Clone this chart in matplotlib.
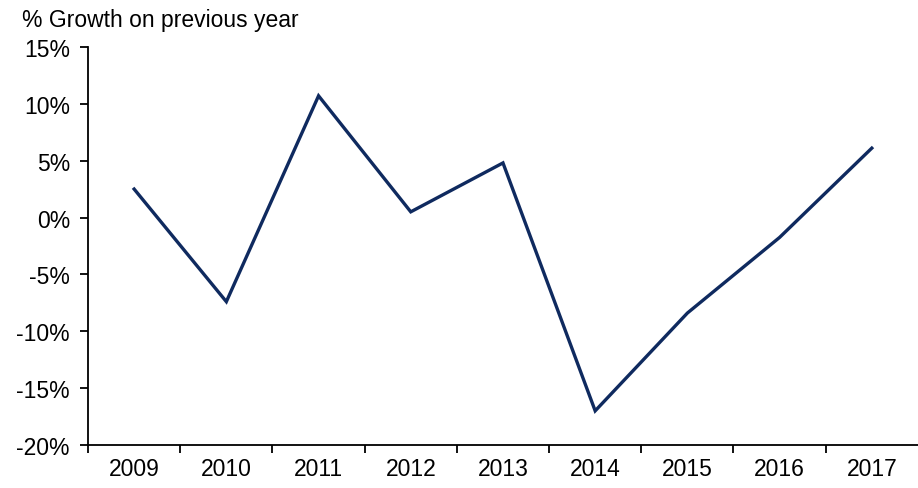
import matplotlib
matplotlib.use("Agg")
import matplotlib.pyplot as plt
from matplotlib.ticker import FuncFormatter

plt.rcParams["font.family"] = ["Liberation Sans", "DejaVu Sans"]

years = ["2009", "2010", "2011", "2012", "2013", "2014", "2015", "2016", "2017"]
growth = [2.5, -7.4, 10.7, 0.5, 4.8, -17.0, -8.4, -1.75, 6.1]
y_ticks = [-20, -15, -10, -5, 0, 5, 10, 15]

fig = plt.figure(figsize=(9.18, 4.89), dpi=100)
ax = fig.add_axes([0.0959, 0.088, 0.904, 0.814])

x = list(range(len(years)))
ax.plot(x, growth, color="#0f2a5f", linewidth=2.4, solid_joinstyle="miter")

ax.set_xlim(-0.5, len(years) - 0.5)
ax.set_ylim(-20, 15)

# category labels centred, tick marks on the category boundaries
ax.set_xticks(x)
ax.set_xticklabels(years)
ax.tick_params(axis="x", which="major", length=0, pad=9, labelsize=16.5)
ax.set_xticks([i - 0.5 for i in range(len(years))], minor=True)
ax.tick_params(axis="x", which="minor", length=6, width=1.3, direction="out")

ax.set_yticks(y_ticks)
ax.yaxis.set_major_formatter(FuncFormatter(lambda v, p: f"{int(v)}%"))
ax.tick_params(axis="y", length=6, width=1.3, direction="out", pad=7, labelsize=16.5)

for side in ["top", "right"]:
    ax.spines[side].set_visible(False)
for side in ["left", "bottom"]:
    ax.spines[side].set_linewidth(1.3)

fig.text(0.024, 0.958, "% Growth on previous year", fontsize=16.5, ha="left", va="center")

fig.savefig("out.png", dpi=100)
